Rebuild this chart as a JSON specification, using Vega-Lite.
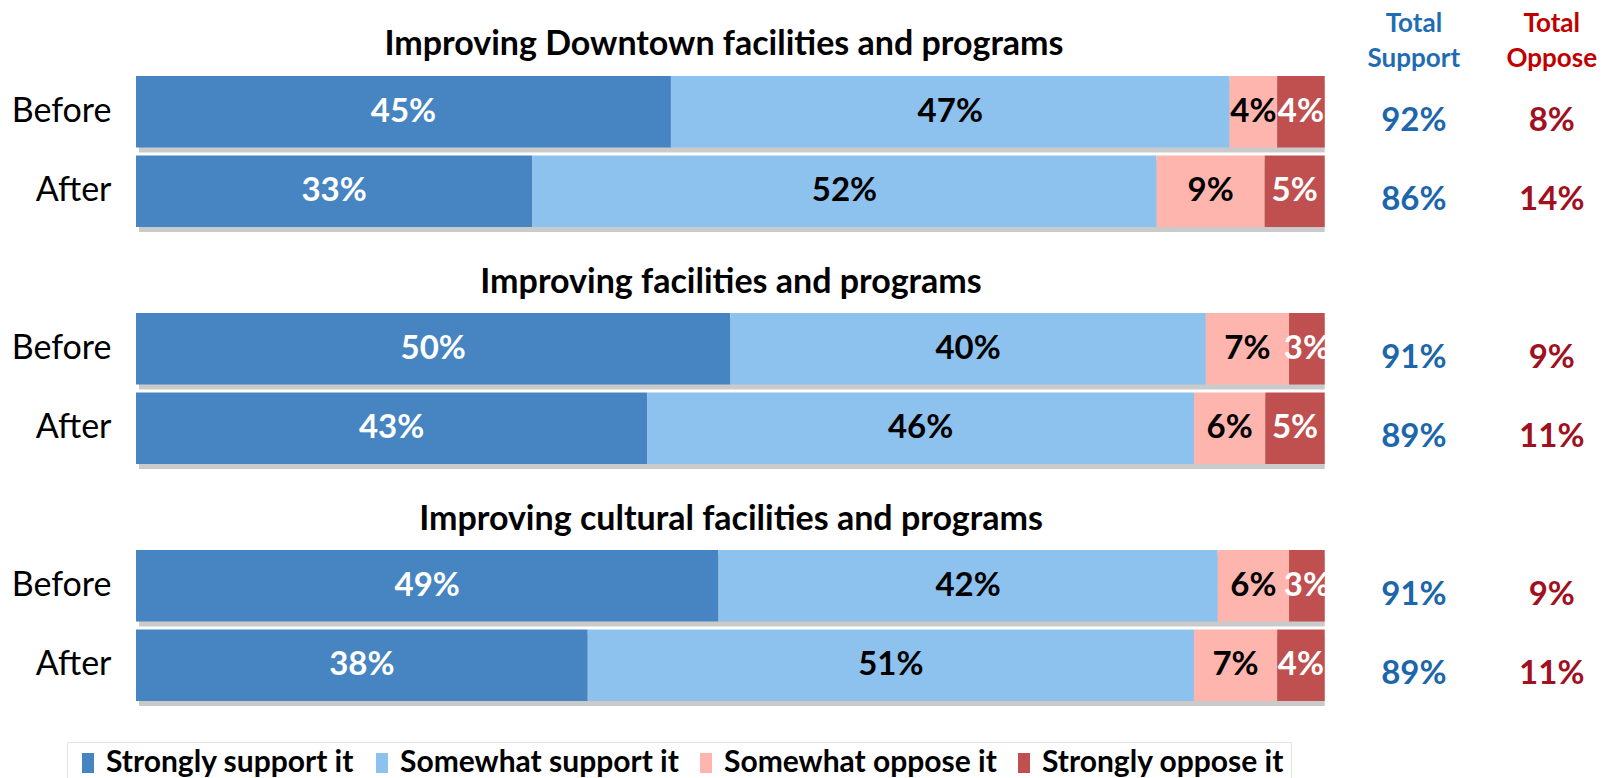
{
  "$schema": "https://vega.github.io/schema/vega-lite/v6.json",
  "background": "white",
  "padding": {"left": 10, "top": 10, "right": 4, "bottom": 0},
  "autosize": {"type": "pad"},
  "datasets": {
    "segs": [
      {"group": "Improving Downtown facilities and programs", "time": "Before", "cat": "Strongly support it", "ord": 1, "pct": 45},
      {"group": "Improving Downtown facilities and programs", "time": "Before", "cat": "Somewhat support it", "ord": 2, "pct": 47},
      {"group": "Improving Downtown facilities and programs", "time": "Before", "cat": "Somewhat oppose it", "ord": 3, "pct": 4},
      {"group": "Improving Downtown facilities and programs", "time": "Before", "cat": "Strongly oppose it", "ord": 4, "pct": 4},
      {"group": "Improving Downtown facilities and programs", "time": "After", "cat": "Strongly support it", "ord": 1, "pct": 33},
      {"group": "Improving Downtown facilities and programs", "time": "After", "cat": "Somewhat support it", "ord": 2, "pct": 52},
      {"group": "Improving Downtown facilities and programs", "time": "After", "cat": "Somewhat oppose it", "ord": 3, "pct": 9},
      {"group": "Improving Downtown facilities and programs", "time": "After", "cat": "Strongly oppose it", "ord": 4, "pct": 5},
      {"group": "Improving facilities and programs", "time": "Before", "cat": "Strongly support it", "ord": 1, "pct": 50},
      {"group": "Improving facilities and programs", "time": "Before", "cat": "Somewhat support it", "ord": 2, "pct": 40},
      {"group": "Improving facilities and programs", "time": "Before", "cat": "Somewhat oppose it", "ord": 3, "pct": 7},
      {"group": "Improving facilities and programs", "time": "Before", "cat": "Strongly oppose it", "ord": 4, "pct": 3},
      {"group": "Improving facilities and programs", "time": "After", "cat": "Strongly support it", "ord": 1, "pct": 43},
      {"group": "Improving facilities and programs", "time": "After", "cat": "Somewhat support it", "ord": 2, "pct": 46},
      {"group": "Improving facilities and programs", "time": "After", "cat": "Somewhat oppose it", "ord": 3, "pct": 6},
      {"group": "Improving facilities and programs", "time": "After", "cat": "Strongly oppose it", "ord": 4, "pct": 5},
      {"group": "Improving cultural facilities and programs", "time": "Before", "cat": "Strongly support it", "ord": 1, "pct": 49},
      {"group": "Improving cultural facilities and programs", "time": "Before", "cat": "Somewhat support it", "ord": 2, "pct": 42},
      {"group": "Improving cultural facilities and programs", "time": "Before", "cat": "Somewhat oppose it", "ord": 3, "pct": 6},
      {"group": "Improving cultural facilities and programs", "time": "Before", "cat": "Strongly oppose it", "ord": 4, "pct": 3},
      {"group": "Improving cultural facilities and programs", "time": "After", "cat": "Strongly support it", "ord": 1, "pct": 38},
      {"group": "Improving cultural facilities and programs", "time": "After", "cat": "Somewhat support it", "ord": 2, "pct": 51},
      {"group": "Improving cultural facilities and programs", "time": "After", "cat": "Somewhat oppose it", "ord": 3, "pct": 7},
      {"group": "Improving cultural facilities and programs", "time": "After", "cat": "Strongly oppose it", "ord": 4, "pct": 4}
    ],
    "totals": [
      {"group": "Improving Downtown facilities and programs", "time": "Before", "support": "92%", "oppose": "8%"},
      {"group": "Improving Downtown facilities and programs", "time": "After", "support": "86%", "oppose": "14%"},
      {"group": "Improving facilities and programs", "time": "Before", "support": "91%", "oppose": "9%"},
      {"group": "Improving facilities and programs", "time": "After", "support": "89%", "oppose": "11%"},
      {"group": "Improving cultural facilities and programs", "time": "Before", "support": "91%", "oppose": "9%"},
      {"group": "Improving cultural facilities and programs", "time": "After", "support": "89%", "oppose": "11%"}
    ]
  },
  "spacing": 34,
  "resolve": {"scale": {"color": "independent", "x": "independent", "y": "independent"}, "legend": {"color": "independent"}},
  "vconcat": [
    {
      "title": {"text": "Improving Downtown facilities and programs", "offset": -51, "dx": -149},
      "width": 1474, "height": 151,
      "encoding": {
        "y": {"field": "time", "type": "nominal", "scale": {"domain": ["Before", "After"], "paddingInner": 0.1, "paddingOuter": 0}, "axis": {"title": null, "domain": false, "ticks": false, "labelFont": "Lato", "labelFontSize": 34, "labelColor": "black", "labelPadding": 25, "minExtent": 126, "maxExtent": 126}}
      },
      "layer": [
        {"data": {"name": "totals"}, "transform": [{"filter": "datum.group == 'Improving Downtown facilities and programs'"}],
         "mark": {"type": "bar", "color": "#8a8a8a", "opacity": 0.45, "xOffset": 3, "yOffset": 5},
         "encoding": {"x": {"datum": 0, "type": "quantitative", "scale": {"domain": [0, 1.24], "nice": false, "zero": true}, "axis": null}, "x2": {"datum": 1}}},
        {"data": {"name": "segs"},
         "transform": [
           {"filter": "datum.group == 'Improving Downtown facilities and programs'"},
           {"joinaggregate": [{"op": "sum", "field": "pct", "as": "tot"}], "groupby": ["time"]},
           {"window": [{"op": "sum", "field": "pct", "as": "cum"}], "sort": [{"field": "ord"}], "groupby": ["time"], "frame": [null, 0]},
           {"calculate": "(datum.cum - datum.pct) / datum.tot", "as": "x1"},
           {"calculate": "datum.cum / datum.tot", "as": "x2"},
           {"calculate": "(datum.x1 + datum.x2) / 2", "as": "xm"},
           {"calculate": "datum.pct + '%'", "as": "label"}
         ],
         "layer": [
           {"mark": {"type": "bar"},
            "encoding": {
              "x": {"field": "x1", "type": "quantitative"}, "x2": {"field": "x2"},
              "color": {"field": "cat", "type": "nominal", "scale": {"domain": ["Strongly support it", "Somewhat support it", "Somewhat oppose it", "Strongly oppose it"], "range": ["#4685C1", "#8DC1EE", "#FDB5AE", "#C0504F"]}, "legend": null}
            }},
           {"mark": {"type": "text", "font": "Lato", "fontSize": 33, "fontWeight": "bold", "baseline": "middle", "align": "center", "dy": 0},
            "encoding": {
              "x": {"field": "xm", "type": "quantitative"},
              "text": {"field": "label"},
              "color": {"condition": {"test": "datum.ord == 1 || datum.ord == 4", "value": "white"}, "value": "black"}
            }}
         ]},
        {"data": {"name": "totals"}, "transform": [{"filter": "datum.group == 'Improving Downtown facilities and programs'"}],
         "mark": {"type": "text", "font": "Lato", "fontSize": 33, "fontWeight": "bold", "color": "#1C66AB", "baseline": "middle", "align": "center", "dy": 9},
         "encoding": {"x": {"datum": 1.075}, "text": {"field": "support"}}},
        {"data": {"name": "totals"}, "transform": [{"filter": "datum.group == 'Improving Downtown facilities and programs'"}],
         "mark": {"type": "text", "font": "Lato", "fontSize": 33, "fontWeight": "bold", "color": "#A0101F", "baseline": "middle", "align": "center", "dy": 9},
         "encoding": {"x": {"datum": 1.191}, "text": {"field": "oppose"}}},
        {"data": {"values": [{}]},
         "mark": {"type": "text", "font": "Lato", "fontSize": 26, "fontWeight": "bold", "color": "#1F6CB4", "baseline": "alphabetic", "align": "center", "dy": -80, "lineHeight": 35},
         "encoding": {"x": {"datum": 1.075}, "y": {"datum": "Before"}, "text": {"value": ["Total", "Support"]}}},
        {"data": {"values": [{}]},
         "mark": {"type": "text", "font": "Lato", "fontSize": 26, "fontWeight": "bold", "color": "#C00000", "baseline": "alphabetic", "align": "center", "dy": -80, "lineHeight": 35},
         "encoding": {"x": {"datum": 1.191}, "y": {"datum": "Before"}, "text": {"value": ["Total", "Oppose"]}}}
      ]
    },
    {
      "title": "Improving facilities and programs",
      "width": 1474, "height": 151,
      "encoding": {
        "y": {"field": "time", "type": "nominal", "scale": {"domain": ["Before", "After"], "paddingInner": 0.1, "paddingOuter": 0}, "axis": {"title": null, "domain": false, "ticks": false, "labelFont": "Lato", "labelFontSize": 34, "labelColor": "black", "labelPadding": 25, "minExtent": 126, "maxExtent": 126}}
      },
      "layer": [
        {"data": {"name": "totals"}, "transform": [{"filter": "datum.group == 'Improving facilities and programs'"}],
         "mark": {"type": "bar", "color": "#8a8a8a", "opacity": 0.45, "xOffset": 3, "yOffset": 5},
         "encoding": {"x": {"datum": 0, "type": "quantitative", "scale": {"domain": [0, 1.24], "nice": false, "zero": true}, "axis": null}, "x2": {"datum": 1}}},
        {"data": {"name": "segs"},
         "transform": [
           {"filter": "datum.group == 'Improving facilities and programs'"},
           {"joinaggregate": [{"op": "sum", "field": "pct", "as": "tot"}], "groupby": ["time"]},
           {"window": [{"op": "sum", "field": "pct", "as": "cum"}], "sort": [{"field": "ord"}], "groupby": ["time"], "frame": [null, 0]},
           {"calculate": "(datum.cum - datum.pct) / datum.tot", "as": "x1"},
           {"calculate": "datum.cum / datum.tot", "as": "x2"},
           {"calculate": "(datum.x1 + datum.x2) / 2", "as": "xm"},
           {"calculate": "datum.pct + '%'", "as": "label"}
         ],
         "layer": [
           {"mark": {"type": "bar"},
            "encoding": {
              "x": {"field": "x1", "type": "quantitative"}, "x2": {"field": "x2"},
              "color": {"field": "cat", "type": "nominal", "scale": {"domain": ["Strongly support it", "Somewhat support it", "Somewhat oppose it", "Strongly oppose it"], "range": ["#4685C1", "#8DC1EE", "#FDB5AE", "#C0504F"]}, "legend": null}
            }},
           {"mark": {"type": "text", "font": "Lato", "fontSize": 33, "fontWeight": "bold", "baseline": "middle", "align": "center", "dy": 0},
            "encoding": {
              "x": {"field": "xm", "type": "quantitative"},
              "text": {"field": "label"},
              "color": {"condition": {"test": "datum.ord == 1 || datum.ord == 4", "value": "white"}, "value": "black"}
            }}
         ]},
        {"data": {"name": "totals"}, "transform": [{"filter": "datum.group == 'Improving facilities and programs'"}],
         "mark": {"type": "text", "font": "Lato", "fontSize": 33, "fontWeight": "bold", "color": "#1C66AB", "baseline": "middle", "align": "center", "dy": 9},
         "encoding": {"x": {"datum": 1.075}, "text": {"field": "support"}}},
        {"data": {"name": "totals"}, "transform": [{"filter": "datum.group == 'Improving facilities and programs'"}],
         "mark": {"type": "text", "font": "Lato", "fontSize": 33, "fontWeight": "bold", "color": "#A0101F", "baseline": "middle", "align": "center", "dy": 9},
         "encoding": {"x": {"datum": 1.191}, "text": {"field": "oppose"}}}
      ]
    },
    {
      "title": "Improving cultural facilities and programs",
      "width": 1474, "height": 151,
      "encoding": {
        "y": {"field": "time", "type": "nominal", "scale": {"domain": ["Before", "After"], "paddingInner": 0.1, "paddingOuter": 0}, "axis": {"title": null, "domain": false, "ticks": false, "labelFont": "Lato", "labelFontSize": 34, "labelColor": "black", "labelPadding": 25, "minExtent": 126, "maxExtent": 126}}
      },
      "layer": [
        {"data": {"name": "totals"}, "transform": [{"filter": "datum.group == 'Improving cultural facilities and programs'"}],
         "mark": {"type": "bar", "color": "#8a8a8a", "opacity": 0.45, "xOffset": 3, "yOffset": 5},
         "encoding": {"x": {"datum": 0, "type": "quantitative", "scale": {"domain": [0, 1.24], "nice": false, "zero": true}, "axis": null}, "x2": {"datum": 1}}},
        {"data": {"name": "segs"},
         "transform": [
           {"filter": "datum.group == 'Improving cultural facilities and programs'"},
           {"joinaggregate": [{"op": "sum", "field": "pct", "as": "tot"}], "groupby": ["time"]},
           {"window": [{"op": "sum", "field": "pct", "as": "cum"}], "sort": [{"field": "ord"}], "groupby": ["time"], "frame": [null, 0]},
           {"calculate": "(datum.cum - datum.pct) / datum.tot", "as": "x1"},
           {"calculate": "datum.cum / datum.tot", "as": "x2"},
           {"calculate": "(datum.x1 + datum.x2) / 2", "as": "xm"},
           {"calculate": "datum.pct + '%'", "as": "label"}
         ],
         "layer": [
           {"mark": {"type": "bar"},
            "encoding": {
              "x": {"field": "x1", "type": "quantitative"}, "x2": {"field": "x2"},
              "color": {"field": "cat", "type": "nominal", "scale": {"domain": ["Strongly support it", "Somewhat support it", "Somewhat oppose it", "Strongly oppose it"], "range": ["#4685C1", "#8DC1EE", "#FDB5AE", "#C0504F"]},
                "legend": {"orient": "none", "legendX": -69, "legendY": 192, "direction": "horizontal", "title": null, "labelFont": "Lato", "labelFontSize": 30, "labelFontWeight": "bold", "labelColor": "black", "labelLimit": 400, "symbolType": "M-0.6,-1H0.6V1H-0.6Z", "symbolSize": 400, "symbolStrokeWidth": 0, "symbolOpacity": 1, "columnPadding": 12, "labelOffset": 3, "strokeColor": "#e4e4e4", "padding": 6}}
            }},
           {"mark": {"type": "text", "font": "Lato", "fontSize": 33, "fontWeight": "bold", "baseline": "middle", "align": "center", "dy": 0},
            "encoding": {
              "x": {"field": "xm", "type": "quantitative"},
              "text": {"field": "label"},
              "color": {"condition": {"test": "datum.ord == 1 || datum.ord == 4", "value": "white"}, "value": "black"}
            }}
         ]},
        {"data": {"name": "totals"}, "transform": [{"filter": "datum.group == 'Improving cultural facilities and programs'"}],
         "mark": {"type": "text", "font": "Lato", "fontSize": 33, "fontWeight": "bold", "color": "#1C66AB", "baseline": "middle", "align": "center", "dy": 9},
         "encoding": {"x": {"datum": 1.075}, "text": {"field": "support"}}},
        {"data": {"name": "totals"}, "transform": [{"filter": "datum.group == 'Improving cultural facilities and programs'"}],
         "mark": {"type": "text", "font": "Lato", "fontSize": 33, "fontWeight": "bold", "color": "#A0101F", "baseline": "middle", "align": "center", "dy": 9},
         "encoding": {"x": {"datum": 1.191}, "text": {"field": "oppose"}}}
      ]
    }
  ],
  "config": {
    "view": {"stroke": null},
    "font": "Lato",
    "title": {"font": "Lato", "fontSize": 34, "fontWeight": "bold", "color": "black", "anchor": "middle", "frame": "group", "offset": 13, "dx": -142}
  }
}
